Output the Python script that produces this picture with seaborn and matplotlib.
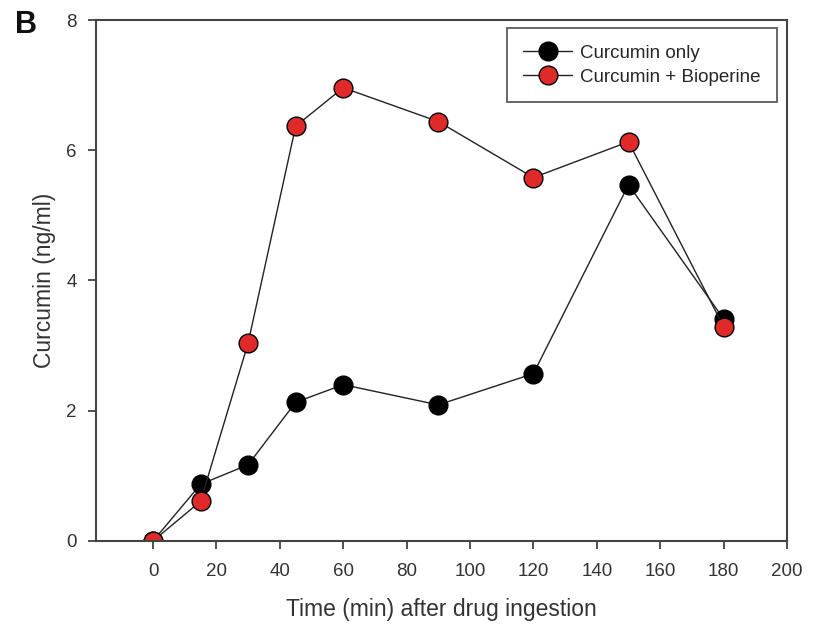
import matplotlib
matplotlib.use("Agg")
import numpy as np
import pandas as pd
import matplotlib.pyplot as plt
import seaborn as sns

# Values
time_min = [0, 15, 30, 45, 60, 90, 120, 150, 180]
curcumin_only = [0.0, 0.87, 1.17, 2.13, 2.40, 2.09, 2.57, 5.47, 3.41]
curcumin_bioperine = [0.0, 0.61, 3.04, 6.37, 6.96, 6.44, 5.58, 6.13, 3.29]

series_names = ["Curcumin only", "Curcumin + Bioperine"]
series_fill = ["#000000", "#e02a2a"]
x_ticks = list(range(0, 201, 20))
y_ticks = [0, 2, 4, 6, 8]

sns.set_style("white")
plt.rcParams["font.family"] = ["Liberation Sans", "DejaVu Sans"]

df = pd.DataFrame({
    "time": time_min * 2,
    "conc": curcumin_only + curcumin_bioperine,
    "group": [series_names[0]] * len(time_min) + [series_names[1]] * len(time_min),
})

fig = plt.figure(figsize=(8.16, 6.27), dpi=100)
ax = fig.add_axes([0.1176, 0.1372, 0.8469, 0.8309])

for name, fill in zip(series_names, series_fill):
    sns.lineplot(
        data=df[df["group"] == name], x="time", y="conc", ax=ax,
        color="#222222", lw=1.0, marker="o", markersize=13.5,
        markerfacecolor=fill, markeredgecolor="#000000", markeredgewidth=1.0,
        label=name,
    )

ax.set_xlim(-18, 200)
ax.set_ylim(0, 8)
ax.set_xticks(x_ticks)
ax.set_yticks(y_ticks)
ax.tick_params(axis="both", direction="out", length=6, width=1.2, color="#333333",
               labelsize=13.5, labelcolor="#333333", bottom=True, left=True)
ax.tick_params(axis="x", pad=10)
ax.tick_params(axis="y", pad=8)
for spine in ax.spines.values():
    spine.set_color("#444444")
    spine.set_linewidth(1.5)

ax.set_xlabel("Time (min) after drug ingestion", fontsize=16.5, color="#333333", labelpad=13)
ax.set_ylabel("Curcumin (ng/ml)", fontsize=16.5, color="#333333", labelpad=7)

leg = ax.legend(loc="upper right", bbox_to_anchor=(0.9855, 0.985), borderaxespad=0,
                fontsize=13.5, frameon=True, fancybox=False, edgecolor="#333333",
                handlelength=2.6, borderpad=0.9, labelspacing=0.35, handletextpad=0.4)
leg.get_frame().set_linewidth(1.3)

fig.text(0.018, 0.96, "B", fontsize=22, fontweight="bold", color="#111111",
         ha="left", va="center")

fig.savefig("out.png", dpi=100, facecolor="white")
